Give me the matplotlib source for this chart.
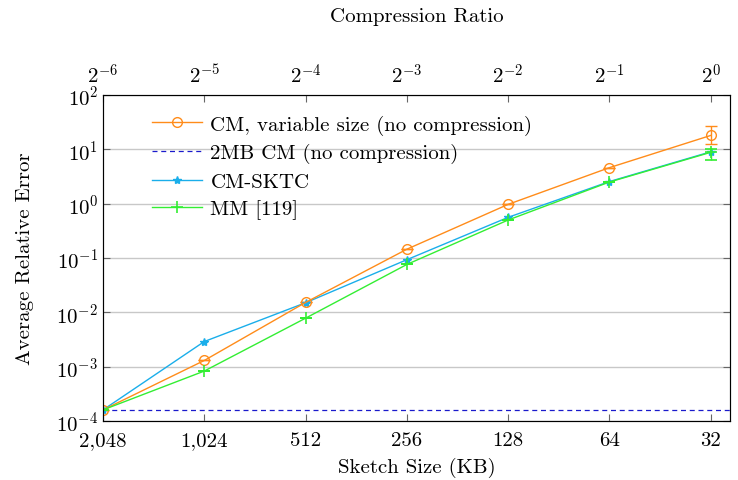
import matplotlib
matplotlib.use("Agg")
import matplotlib.pyplot as plt
from matplotlib.lines import Line2D

plt.rcParams['font.family'] = ['cmr10', 'DejaVu Serif']
plt.rcParams['mathtext.fontset'] = 'cm'
plt.rcParams['axes.formatter.use_mathtext'] = True

sketch_kb = [2048, 1024, 512, 256, 128, 64, 32]
size_labels = ['2,048', '1,024', '512', '256', '128', '64', '32']
ratio_labels = [r'$2^{-6}$', r'$2^{-5}$', r'$2^{-4}$', r'$2^{-3}$', r'$2^{-2}$', r'$2^{-1}$', r'$2^{0}$']

cm_var = [1.6e-4, 1.3e-3, 0.0152, 0.145, 0.97, 4.6, 18.0]
cm_var_err_lo = [0, 0, 0, 0, 0, 0, 5.5]
cm_var_err_hi = [0, 0, 0, 0, 0, 0, 8.5]
cm_2mb = 1.6e-4
cm_sktc = [1.6e-4, 2.9e-3, 0.0150, 0.093, 0.56, 2.55, 9.0]
mm = [1.6e-4, 8.3e-4, 7.8e-3, 0.076, 0.50, 2.5, 8.8]
mm_err_lo = [0, 0, 0, 0, 0, 0, 2.5]
mm_err_hi = [0, 0, 0, 0, 0, 0, 1.5]

c_orange = '#ff8c1a'
c_cyan = '#1aaeea'
c_green = '#33ee33'
c_blue = '#1a1acc'
fs = 15

fig = plt.figure(figsize=(7.38, 4.81), dpi=100)
ax = fig.add_axes([0.1396, 0.1227, 0.8494, 0.6777])

ax.errorbar(sketch_kb, cm_var, yerr=[cm_var_err_lo, cm_var_err_hi], color=c_orange, marker='o',
            mfc='none', ms=7, lw=1, capsize=4, elinewidth=1)
ax.axhline(cm_2mb, color=c_blue, ls=(0, (4, 3)), lw=0.9)
ax.plot(sketch_kb, cm_sktc, color=c_cyan, marker='*', ms=6, lw=1)
ax.errorbar(sketch_kb, mm, yerr=[mm_err_lo, mm_err_hi], color=c_green, marker='+', ms=8, mew=1.2,
            lw=1, capsize=4, elinewidth=1)

ax.set_xscale('log', base=2)
ax.set_yscale('log')
ax.set_xlim(2048, 32 / 2 ** 0.19)
ax.set_ylim(1e-4, 1e2)
ax.set_xticks(sketch_kb)
ax.set_xticklabels(size_labels)
ax.minorticks_off()
ax.set_yticks([10.0 ** k for k in range(-4, 3)])
ax.grid(axis='y', color='#c8c8c8', lw=1)
ax.tick_params(direction='in', length=5, labelsize=fs, right=True, color='#666666')
ax.tick_params(axis='x', pad=7)
for s in ax.spines.values():
    s.set_color('#444444')
ax.set_xlabel('Sketch Size (KB)', fontsize=fs, labelpad=6)
ax.set_ylabel('Average Relative Error', fontsize=fs, labelpad=16)

top = ax.twiny()
top.set_xscale('log', base=2)
top.set_xlim(ax.get_xlim())
top.set_xticks(sketch_kb)
top.set_xticklabels(ratio_labels)
top.minorticks_off()
top.tick_params(direction='in', length=5, labelsize=fs, color='#666666', pad=6)
top.set_xlabel('Compression Ratio', fontsize=fs, labelpad=30)

handles = [
    Line2D([], [], color=c_orange, marker='o', mfc='none', ms=7, lw=1),
    Line2D([], [], color=c_blue, ls=(0, (4, 3)), lw=0.9),
    Line2D([], [], color=c_cyan, marker='*', ms=6, lw=1),
    Line2D([], [], color=c_green, marker='+', ms=8, mew=1.2, lw=1),
]
labels = ['CM, variable size (no compression)', '2MB CM (no compression)', 'CM-SKTC', 'MM [119]']
ax.legend(handles, labels, loc='upper left', bbox_to_anchor=(0.055, 0.985), frameon=False, fontsize=fs,
          handlelength=2.4, handletextpad=0.4, labelspacing=0.42, borderaxespad=0.3)

fig.savefig('out.png', dpi=100)
